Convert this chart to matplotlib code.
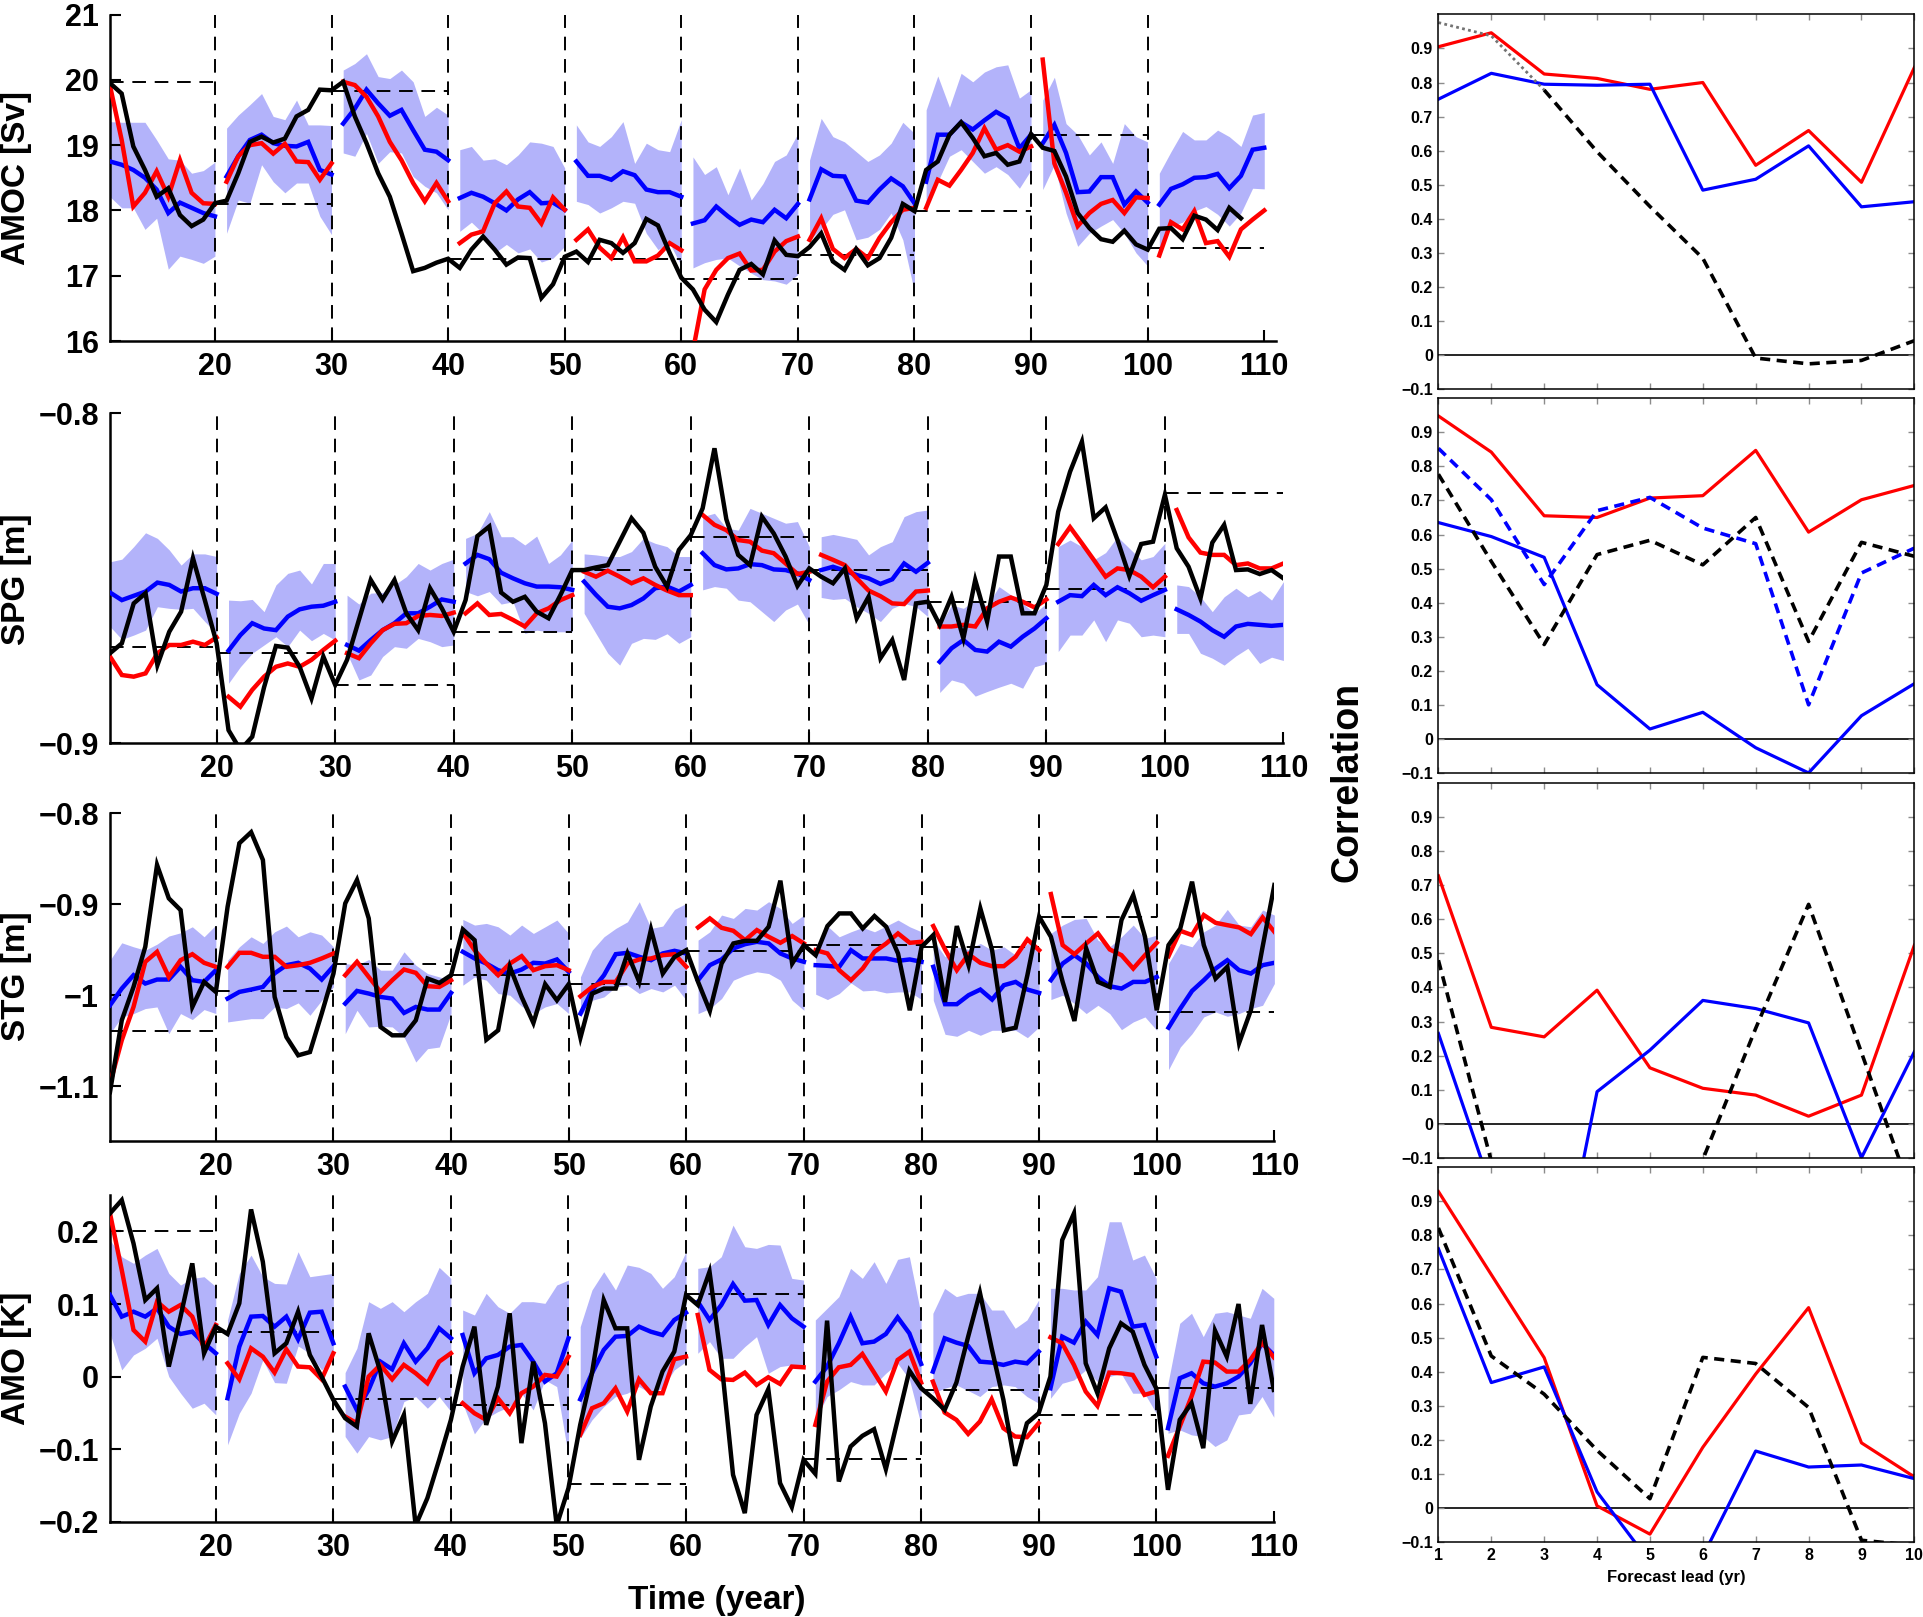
import numpy as np
import matplotlib
matplotlib.use("Agg")
import matplotlib.pyplot as plt

plt.rcParams['font.family'] = ['Liberation Sans', 'DejaVu Sans']
plt.rcParams['font.weight'] = 'bold'

# ---------------- data: time series (years 11-110, 10 forecast blocks) ----------------
years = np.arange(11, 111)
amoc_years = np.arange(11, 109)

amoc_obs = [19.95, 19.79, 18.98, 18.62, 18.21, 18.34, 17.93, 17.76, 17.86, 18.11,
            18.15, 18.57, 19.05, 19.13, 19.04, 19.10, 19.44, 19.54, 19.85, 19.84,
            19.97, 19.44, 19.03, 18.57, 18.21, 17.65, 17.07, 17.12, 17.20, 17.26,
            17.12, 17.40, 17.60, 17.40, 17.17, 17.28, 17.27, 16.66, 16.87, 17.29,
            17.37, 17.21, 17.55, 17.50, 17.35, 17.50, 17.87, 17.77, 17.35, 16.97,
            16.79, 16.48, 16.29, 16.71, 17.09, 17.18, 17.02, 17.54, 17.32, 17.30,
            17.44, 17.65, 17.22, 17.09, 17.41, 17.16, 17.27, 17.58, 18.10, 17.99,
            18.62, 18.75, 19.16, 19.35, 19.11, 18.83, 18.88, 18.70, 18.75, 19.17,
            18.96, 18.91, 18.52, 17.96, 17.73, 17.56, 17.52, 17.69, 17.48, 17.40,
            17.72, 17.73, 17.56, 17.92, 17.86, 17.70, 18.04, 17.88]
amoc_ens = [18.75, 18.70, 18.62, 18.50, 18.32, 17.96, 18.12, 18.04, 17.96, 17.91,
            18.52, 18.83, 19.08, 19.16, 19.03, 18.99, 18.98, 19.05, 18.62, 18.55,
            19.33, 19.56, 19.85, 19.64, 19.45, 19.54, 19.23, 18.93, 18.90, 18.77,
            18.19, 18.27, 18.21, 18.11, 18.00, 18.17, 18.28, 18.11, 18.12, 18.01,
            18.75, 18.53, 18.53, 18.47, 18.60, 18.54, 18.32, 18.28, 18.28, 18.21,
            17.80, 17.85, 18.06, 17.91, 17.78, 17.86, 17.82, 18.01, 17.88, 18.10,
            18.17, 18.63, 18.53, 18.52, 18.15, 18.12, 18.32, 18.49, 18.37, 18.11,
            18.44, 19.16, 19.16, 19.35, 19.24, 19.38, 19.51, 19.41, 18.95, 19.16,
            19.03, 19.31, 18.88, 18.28, 18.29, 18.51, 18.51, 18.09, 18.29, 18.12,
            18.09, 18.33, 18.40, 18.50, 18.51, 18.56, 18.34, 18.53, 18.93, 18.96]
amoc_red = [19.91, 19.08, 18.06, 18.27, 18.60, 18.21, 18.77, 18.27, 18.11, 18.10,
            18.44, 18.83, 19.00, 19.03, 18.87, 19.02, 18.75, 18.74, 18.47, 18.72,
            19.97, 19.92, 19.74, 19.44, 19.05, 18.77, 18.42, 18.14, 18.42, 18.14,
            17.50, 17.63, 17.68, 18.11, 18.29, 18.06, 18.04, 17.80, 18.20, 18.01,
            17.55, 17.71, 17.43, 17.27, 17.59, 17.22, 17.22, 17.31, 17.50, 17.39,
            15.85, 16.79, 17.09, 17.27, 17.34, 17.08, 17.09, 17.37, 17.53, 17.60,
            17.55, 17.88, 17.41, 17.27, 17.41, 17.27, 17.58, 17.82, 18.01, 18.04,
            18.04, 18.47, 18.38, 18.62, 18.88, 19.26, 18.93, 19.00, 18.90, 18.98,
            20.31, 18.72, 18.27, 17.76, 17.96, 18.10, 18.16, 17.96, 18.20, 18.19,
            17.31, 17.82, 17.71, 17.99, 17.50, 17.53, 17.29, 17.71, 17.86, 18.00]
amoc_hi = [19.36, 19.35, 19.35, 19.35, 19.08, 18.79, 18.77, 18.57, 18.61, 18.74,
           19.26, 19.46, 19.62, 19.79, 19.44, 19.39, 19.69, 19.31, 19.31, 19.30,
           20.15, 20.25, 20.40, 20.05, 20.02, 20.15, 19.97, 19.44, 19.58, 19.46,
           18.93, 18.98, 18.77, 18.79, 18.70, 18.85, 19.05, 19.03, 18.98, 18.65,
           19.31, 19.05, 18.98, 19.13, 19.36, 18.72, 19.03, 18.93, 18.90, 19.39,
           18.82, 18.55, 18.67, 18.24, 18.65, 18.16, 18.41, 18.75, 18.85, 19.18,
           18.77, 19.41, 19.13, 19.05, 18.90, 18.75, 18.85, 19.03, 19.35, 19.18,
           19.54, 20.06, 19.58, 20.10, 19.97, 20.12, 20.20, 20.23, 19.72, 19.85,
           19.69, 20.04, 19.33, 19.16, 18.85, 19.05, 18.72, 19.33, 19.13, 19.05,
           18.57, 18.90, 19.21, 19.08, 19.08, 19.23, 19.13, 18.98, 19.46, 19.50]
amoc_lo = [18.21, 18.04, 18.04, 17.71, 17.88, 17.10, 17.30, 17.25, 17.19, 17.30,
           17.65, 18.16, 18.11, 18.70, 18.44, 18.27, 18.42, 18.42, 17.91, 17.63,
           18.88, 18.83, 19.18, 18.72, 18.90, 18.88, 18.52, 18.37, 18.27, 18.01,
           17.68, 17.82, 17.65, 17.35, 17.48, 17.35, 17.41, 17.21, 17.27, 17.45,
           18.14, 18.09, 17.96, 18.04, 18.14, 18.11, 17.65, 17.40, 17.50, 17.15,
           17.12, 17.20, 17.25, 17.27, 17.15, 17.04, 16.94, 16.92, 16.87, 17.02,
           17.55, 17.71, 17.94, 18.01, 17.55, 17.59, 17.71, 17.96, 17.55, 16.75,
           18.09, 18.44, 18.83, 18.93, 18.75, 18.57, 18.67, 18.55, 18.34, 18.62,
           18.32, 18.70, 17.96, 17.45, 17.65, 17.76, 17.86, 17.65, 17.35, 17.15,
           17.37, 17.76, 17.82, 17.99, 18.06, 17.94, 17.76, 17.96, 18.34, 18.33]
amoc_init = [19.97, 18.10, 19.83, 17.25, 17.26, 16.95, 17.31, 17.99, 19.15, 17.42]

spg_obs = [-0.8727, -0.8697, -0.8576, -0.8545, -0.8763, -0.8662, -0.8601, -0.8439, -0.8566, -0.8697,
           -0.8960, -0.9020, -0.8980, -0.8830, -0.8705, -0.8710, -0.8768, -0.8864, -0.8737, -0.8823,
           -0.8747, -0.8626, -0.8505, -0.8564, -0.8505, -0.8606, -0.8657, -0.8530, -0.8591, -0.8662,
           -0.8566, -0.8372, -0.8343, -0.8543, -0.8571, -0.8556, -0.8601, -0.8621, -0.8551, -0.8475,
           -0.8475, -0.8467, -0.8460, -0.8389, -0.8318, -0.8362, -0.8465, -0.8525, -0.8414, -0.8369,
           -0.8288, -0.8106, -0.8321, -0.8429, -0.8460, -0.8313, -0.8364, -0.8434, -0.8523, -0.8470,
           -0.8495, -0.8515, -0.8470, -0.8621, -0.8556, -0.8742, -0.8687, -0.8808, -0.8576, -0.8571,
           -0.8641, -0.8556, -0.8682, -0.8505, -0.8631, -0.8434, -0.8434, -0.8606, -0.8606, -0.8520,
           -0.8298, -0.8177, -0.8086, -0.8318, -0.8285, -0.8384, -0.8493, -0.8396, -0.8389, -0.8247,
           -0.8409, -0.8465, -0.8561, -0.8392, -0.8338, -0.8475, -0.8473, -0.8487, -0.8475, -0.8500]
spg_ens = [-0.8543, -0.8566, -0.8553, -0.8540, -0.8513, -0.8520, -0.8540, -0.8530, -0.8530, -0.8547,
           -0.8719, -0.8672, -0.8636, -0.8652, -0.8657, -0.8616, -0.8594, -0.8586, -0.8583, -0.8571,
           -0.8702, -0.8719, -0.8687, -0.8657, -0.8636, -0.8606, -0.8606, -0.8586, -0.8564, -0.8571,
           -0.8455, -0.8429, -0.8442, -0.8483, -0.8500, -0.8515, -0.8525, -0.8525, -0.8527, -0.8535,
           -0.8510, -0.8550, -0.8586, -0.8591, -0.8581, -0.8561, -0.8530, -0.8525, -0.8540, -0.8520,
           -0.8424, -0.8460, -0.8473, -0.8470, -0.8457, -0.8460, -0.8473, -0.8475, -0.8485, -0.8505,
           -0.8475, -0.8465, -0.8477, -0.8490, -0.8500, -0.8517, -0.8503, -0.8455, -0.8480, -0.8453,
           -0.8753, -0.8712, -0.8687, -0.8717, -0.8722, -0.8692, -0.8707, -0.8677, -0.8652, -0.8621,
           -0.8571, -0.8551, -0.8554, -0.8520, -0.8551, -0.8527, -0.8545, -0.8568, -0.8551, -0.8535,
           -0.8594, -0.8611, -0.8631, -0.8657, -0.8677, -0.8646, -0.8638, -0.8641, -0.8644, -0.8641]
spg_red = [-0.8737, -0.8793, -0.8798, -0.8788, -0.8727, -0.8702, -0.8702, -0.8692, -0.8702, -0.8679,
           -0.8859, -0.8889, -0.8838, -0.8798, -0.8768, -0.8758, -0.8768, -0.8747, -0.8717, -0.8689,
           -0.8727, -0.8742, -0.8697, -0.8657, -0.8638, -0.8636, -0.8614, -0.8611, -0.8614, -0.8604,
           -0.8606, -0.8576, -0.8611, -0.8608, -0.8626, -0.8646, -0.8606, -0.8591, -0.8566, -0.8551,
           -0.8480, -0.8495, -0.8477, -0.8495, -0.8515, -0.8500, -0.8520, -0.8537, -0.8551, -0.8551,
           -0.8308, -0.8338, -0.8354, -0.8384, -0.8389, -0.8416, -0.8424, -0.8455, -0.8487, -0.8480,
           -0.8429, -0.8444, -0.8460, -0.8500, -0.8537, -0.8554, -0.8576, -0.8578, -0.8540, -0.8537,
           -0.8646, -0.8646, -0.8641, -0.8646, -0.8591, -0.8571, -0.8558, -0.8571, -0.8588, -0.8564,
           -0.8396, -0.8345, -0.8394, -0.8444, -0.8495, -0.8470, -0.8475, -0.8495, -0.8527, -0.8495,
           -0.8293, -0.8376, -0.8422, -0.8429, -0.8429, -0.8460, -0.8455, -0.8470, -0.8470, -0.8455]
spg_hi = [-0.8450, -0.8442, -0.8404, -0.8362, -0.8379, -0.8414, -0.8460, -0.8426, -0.8426, -0.8434,
          -0.8566, -0.8568, -0.8564, -0.8601, -0.8520, -0.8485, -0.8475, -0.8517, -0.8455, -0.8455,
          -0.8551, -0.8578, -0.8545, -0.8543, -0.8520, -0.8495, -0.8455, -0.8475, -0.8455, -0.8442,
          -0.8379, -0.8364, -0.8298, -0.8374, -0.8374, -0.8399, -0.8372, -0.8455, -0.8429, -0.8384,
          -0.8426, -0.8429, -0.8434, -0.8434, -0.8419, -0.8379, -0.8394, -0.8404, -0.8434, -0.8434,
          -0.8313, -0.8303, -0.8348, -0.8354, -0.8288, -0.8303, -0.8318, -0.8333, -0.8328, -0.8404,
          -0.8374, -0.8367, -0.8374, -0.8382, -0.8429, -0.8404, -0.8389, -0.8313, -0.8298, -0.8293,
          -0.8644, -0.8581, -0.8591, -0.8566, -0.8584, -0.8525, -0.8550, -0.8576, -0.8606, -0.8576,
          -0.8404, -0.8384, -0.8404, -0.8444, -0.8422, -0.8374, -0.8409, -0.8444, -0.8434, -0.8394,
          -0.8520, -0.8525, -0.8556, -0.8601, -0.8556, -0.8530, -0.8556, -0.8537, -0.8566, -0.8510]
spg_lo = [-0.8646, -0.8685, -0.8672, -0.8657, -0.8586, -0.8591, -0.8594, -0.8591, -0.8631, -0.8667,
          -0.8818, -0.8768, -0.8727, -0.8702, -0.8677, -0.8707, -0.8657, -0.8689, -0.8667, -0.8687,
          -0.8727, -0.8808, -0.8793, -0.8737, -0.8707, -0.8712, -0.8682, -0.8692, -0.8707, -0.8702,
          -0.8540, -0.8553, -0.8540, -0.8578, -0.8571, -0.8667, -0.8657, -0.8662, -0.8662, -0.8662,
          -0.8606, -0.8667, -0.8727, -0.8763, -0.8697, -0.8682, -0.8685, -0.8668, -0.8697, -0.8677,
          -0.8535, -0.8525, -0.8530, -0.8566, -0.8571, -0.8601, -0.8631, -0.8596, -0.8578, -0.8641,
          -0.8558, -0.8564, -0.8561, -0.8586, -0.8606, -0.8631, -0.8591, -0.8576, -0.8586, -0.8616,
          -0.8846, -0.8808, -0.8818, -0.8857, -0.8843, -0.8830, -0.8818, -0.8833, -0.8768, -0.8758,
          -0.8722, -0.8672, -0.8672, -0.8626, -0.8692, -0.8626, -0.8636, -0.8677, -0.8672, -0.8677,
          -0.8667, -0.8667, -0.8727, -0.8742, -0.8763, -0.8735, -0.8712, -0.8758, -0.8739, -0.8749]
spg_init = [-0.8709, -0.8727, -0.8823, -0.8662, -0.8475, -0.8376, -0.8475, -0.8573, -0.8533, -0.8242]

stg_obs = [-1.1066, -1.0277, -0.9910, -0.9469, -0.8569, -0.8936, -0.9065, -1.0130, -0.9855, -0.9965,
           -0.9028, -0.8330, -0.8209, -0.8514, -1.0020, -1.0461, -1.0662, -1.0626, -1.0203, -0.9763,
           -0.8992, -0.8734, -0.9157, -1.0350, -1.0442, -1.0442, -1.0277, -0.9818, -0.9866, -0.9781,
           -0.9278, -0.9396, -1.0490, -1.0387, -0.9689, -1.0020, -1.0306, -0.9880, -1.0057, -0.9880,
           -1.0468, -0.9983, -0.9928, -0.9928, -0.9542, -0.9855, -0.9278, -0.9763, -0.9580, -0.9506,
           -0.9855, -1.0174, -0.9653, -0.9432, -0.9403, -0.9403, -0.9249, -0.8742, -0.9653, -0.9451,
           -0.9561, -0.9241, -0.9102, -0.9102, -0.9267, -0.9131, -0.9249, -0.9542, -1.0167, -0.9470,
           -0.9340, -1.0075, -0.9241, -0.9671, -0.9047, -0.9506, -1.0387, -1.0358, -0.9781, -0.9138,
           -0.9359, -0.9855, -1.0284, -0.9487, -0.9855, -0.9910, -0.9175, -0.8900, -0.9359, -1.0167,
           -0.9451, -0.9267, -0.8753, -0.9451, -0.9818, -0.9689, -1.0527, -1.0167, -0.9469, -0.8790]
stg_ens = [-1.0112, -0.9928, -0.9781, -0.9873, -0.9829, -0.9829, -0.9689, -0.9836, -0.9855, -0.9726,
           -1.0038, -0.9965, -0.9939, -0.9910, -0.9760, -0.9671, -0.9645, -0.9708, -0.9829, -0.9682,
           -1.0093, -0.9954, -0.9983, -1.0020, -1.0038, -1.0196, -1.0130, -1.0159, -1.0159, -0.9976,
           -0.9524, -0.9597, -0.9653, -0.9726, -0.9763, -0.9719, -0.9645, -0.9653, -0.9608, -0.9744,
           -1.0203, -0.9946, -0.9781, -0.9550, -0.9535, -0.9579, -0.9616, -0.9542, -0.9513, -0.9542,
           -0.9836, -0.9671, -0.9608, -0.9487, -0.9440, -0.9414, -0.9432, -0.9542, -0.9597, -0.9634,
           -0.9671, -0.9678, -0.9689, -0.9506, -0.9597, -0.9597, -0.9597, -0.9623, -0.9608, -0.9634,
           -0.9689, -1.0100, -1.0100, -1.0001, -0.9939, -1.0049, -0.9891, -0.9855, -0.9939, -0.9976,
           -0.9836, -0.9653, -0.9561, -0.9653, -0.9800, -0.9902, -0.9928, -0.9855, -0.9855, -0.9800,
           -1.0358, -1.0148, -0.9954, -0.9836, -0.9708, -0.9616, -0.9726, -0.9763, -0.9671, -0.9645]
stg_red = [-1.0975, -1.0497, -1.0130, -0.9634, -0.9524, -0.9800, -0.9616, -0.9550, -0.9645, -0.9689,
           -0.9689, -0.9535, -0.9535, -0.9579, -0.9579, -0.9689, -0.9671, -0.9645, -0.9597, -0.9542,
           -0.9781, -0.9634, -0.9800, -0.9965, -0.9836, -0.9719, -0.9755, -0.9902, -0.9910, -0.9836,
           -0.9315, -0.9506, -0.9653, -0.9781, -0.9653, -0.9572, -0.9726, -0.9682, -0.9671, -0.9726,
           -1.0013, -0.9910, -0.9855, -0.9855, -0.9653, -0.9608, -0.9597, -0.9561, -0.9550, -0.9689,
           -0.9256, -0.9157, -0.9260, -0.9293, -0.9396, -0.9285, -0.9359, -0.9425, -0.9351, -0.9432,
           -0.9506, -0.9542, -0.9726, -0.9836, -0.9708, -0.9524, -0.9432, -0.9322, -0.9425, -0.9414,
           -0.9241, -0.9498, -0.9726, -0.9550, -0.9645, -0.9682, -0.9682, -0.9579, -0.9388, -0.9506,
           -0.8889, -0.9451, -0.9550, -0.9432, -0.9322, -0.9498, -0.9561, -0.9708, -0.9561, -0.9425,
           -0.9572, -0.9293, -0.9340, -0.9120, -0.9205, -0.9231, -0.9256, -0.9329, -0.9146, -0.9304]
stg_hi = [-0.9616, -0.9425, -0.9469, -0.9506, -0.9440, -0.9351, -0.9315, -0.9249, -0.9359, -0.9230,
          -0.9616, -0.9469, -0.9359, -0.9432, -0.9304, -0.9241, -0.9359, -0.9304, -0.9340, -0.9469,
          -0.9653, -0.9671, -0.9608, -0.9726, -0.9726, -0.9524, -0.9671, -0.9763, -0.9800, -0.9836,
          -0.9168, -0.9230, -0.9212, -0.9249, -0.9340, -0.9230, -0.9322, -0.9249, -0.9175, -0.9322,
          -0.9800, -0.9506, -0.9359, -0.9267, -0.9194, -0.8973, -0.9267, -0.9241, -0.9058, -0.8992,
          -0.9396, -0.9304, -0.9120, -0.9157, -0.9047, -0.9065, -0.8973, -0.9047, -0.9212, -0.9120,
          -0.9469, -0.9241, -0.9359, -0.9304, -0.9256, -0.9304, -0.9241, -0.9175, -0.9249, -0.9304,
          -0.9396, -0.9579, -0.9469, -0.9498, -0.9432, -0.9506, -0.9469, -0.9561, -0.9432, -0.9469,
          -0.9322, -0.9230, -0.9168, -0.9157, -0.9396, -0.9469, -0.9359, -0.9230, -0.9377, -0.9340,
          -0.9653, -0.9432, -0.9469, -0.9304, -0.9230, -0.9058, -0.9230, -0.9249, -0.9065, -0.9120]
stg_lo = [-1.0424, -1.0240, -1.0203, -1.0148, -1.0130, -1.0424, -1.0203, -1.0269, -1.0159, -1.0203,
          -1.0295, -1.0277, -1.0259, -1.0259, -1.0130, -1.0148, -1.0086, -1.0222, -1.0057, -0.9910,
          -1.0424, -1.0167, -1.0350, -1.0343, -1.0350, -1.0461, -1.0736, -1.0589, -1.0571, -1.0203,
          -0.9891, -0.9800, -0.9836, -0.9983, -1.0001, -1.0123, -1.0203, -1.0130, -1.0093, -1.0203,
          -1.0240, -1.0057, -1.0020, -0.9910, -0.9891, -0.9983, -0.9928, -0.9965, -0.9891, -1.0057,
          -1.0203, -1.0148, -1.0038, -0.9836, -0.9781, -0.9744, -0.9763, -0.9836, -1.0057, -1.0167,
          -0.9990, -1.0049, -0.9983, -0.9866, -0.9954, -0.9946, -0.9976, -0.9965, -0.9965, -1.0049,
          -1.0057, -1.0431, -1.0453, -1.0387, -1.0442, -1.0387, -1.0387, -1.0387, -1.0468, -1.0350,
          -1.0049, -1.0001, -1.0093, -1.0203, -1.0112, -1.0203, -1.0380, -1.0295, -1.0240, -1.0387,
          -1.0820, -1.0571, -1.0424, -1.0240, -1.0185, -1.0233, -1.0203, -1.0148, -1.0112, -0.9873]
stg_init = [-1.0394, -0.9954, -0.9653, -0.9781, -0.9873, -0.9513, -0.9451, -0.9476, -0.9138, -1.0185]

amo_obs = [0.2248, 0.2431, 0.1835, 0.1055, 0.1216, 0.0138, 0.0826, 0.1560, 0.0321, 0.0688,
           0.0587, 0.1009, 0.2303, 0.1583, 0.0321, 0.0459, 0.0894, 0.0298, 0.0000, -0.0321,
           -0.0573, -0.0688, 0.0596, 0.0069, -0.0894, -0.0528, -0.2050, -0.1674, -0.1147, -0.0596,
           0.0138, 0.0688, -0.0665, -0.0138, 0.0872, -0.0917, 0.0206, -0.0642, -0.2050, -0.1537,
           -0.0665, 0.0046, 0.1055, 0.0665, 0.0665, -0.1147, -0.0413, 0.0069, 0.0344, 0.1124,
           0.0986, 0.1445, 0.0229, -0.1353, -0.1881, -0.0528, -0.0174, -0.1468, -0.1798, -0.1147,
           -0.1339, 0.0771, -0.1445, -0.0963, -0.0817, -0.0725, -0.1275, -0.0596, 0.0083, -0.0161,
           -0.0298, -0.0459, -0.0083, 0.0550, 0.1156, 0.0390, -0.0321, -0.1229, -0.0642, -0.0505,
           0.0000, 0.1881, 0.2248, 0.0183, -0.0229, 0.0390, 0.0734, 0.0619, 0.0161, -0.0161,
           -0.1560, -0.0596, -0.0367, -0.0986, 0.0633, 0.0275, 0.1000, -0.0376, 0.0711, -0.0183]
amo_ens = [0.1124, 0.0826, 0.0894, 0.0826, 0.0940, 0.0688, 0.0587, 0.0619, 0.0459, 0.0321,
           -0.0298, 0.0413, 0.0826, 0.0835, 0.0688, 0.0826, 0.0514, 0.0881, 0.0894, 0.0459,
           -0.0138, -0.0459, -0.0183, 0.0206, 0.0101, 0.0459, 0.0206, 0.0390, 0.0665, 0.0528,
           0.0573, 0.0046, 0.0252, 0.0298, 0.0413, 0.0436, 0.0206, -0.0069, 0.0046, 0.0528,
           -0.0312, 0.0046, 0.0367, 0.0550, 0.0560, 0.0688, 0.0619, 0.0573, 0.0780, 0.0881,
           0.1032, 0.0780, 0.0986, 0.1275, 0.1046, 0.1055, 0.0711, 0.0986, 0.0803, 0.0688,
           -0.0069, 0.0138, 0.0459, 0.0826, 0.0459, 0.0482, 0.0587, 0.0817, 0.0596, 0.0174,
           0.0069, 0.0528, 0.0468, 0.0422, 0.0206, 0.0193, 0.0161, 0.0206, 0.0183, 0.0344,
           -0.0161, 0.0550, 0.0468, 0.0757, 0.0573, 0.1216, 0.1170, 0.0688, 0.0711, 0.0275,
           -0.0711, -0.0023, 0.0046, -0.0092, -0.0138, -0.0092, 0.0000, 0.0183, 0.0459, 0.0298]
amo_red = [0.2248, 0.1468, 0.0642, 0.0482, 0.1032, 0.0894, 0.0986, 0.0826, 0.0390, 0.0711,
           0.0183, -0.0037, 0.0390, 0.0275, 0.0055, 0.0376, 0.0138, 0.0128, -0.0037, 0.0321,
           -0.0550, -0.0642, 0.0000, 0.0161, -0.0037, 0.0161, 0.0046, -0.0092, 0.0206, 0.0321,
           -0.0367, -0.0505, -0.0596, -0.0298, -0.0505, -0.0229, -0.0138, 0.0023, 0.0000, 0.0275,
           -0.0803, -0.0436, -0.0367, -0.0161, -0.0482, -0.0037, -0.0229, -0.0229, 0.0239, 0.0275,
           0.0849, 0.0092, -0.0037, -0.0046, 0.0055, -0.0115, -0.0009, -0.0101, 0.0138, 0.0128,
           -0.0665, -0.0069, 0.0128, 0.0161, 0.0312, 0.0055, -0.0206, 0.0229, 0.0344, -0.0083,
           -0.0069, -0.0495, -0.0596, -0.0789, -0.0619, -0.0312, -0.0711, -0.0826, -0.0835, -0.0642,
           0.0541, 0.0459, 0.0161, -0.0206, -0.0404, 0.0055, 0.0046, 0.0023, -0.0252, -0.0206,
           -0.1092, -0.0688, -0.0275, 0.0206, 0.0193, 0.0069, 0.0069, 0.0229, 0.0468, 0.0266]
amo_hi = [0.1881, 0.1651, 0.1560, 0.1674, 0.1766, 0.1422, 0.1261, 0.1353, 0.1376, 0.1239,
          0.0780, 0.1422, 0.1674, 0.1376, 0.1284, 0.1275, 0.1720, 0.1376, 0.1399, 0.1422,
          0.0055, 0.0390, 0.1032, 0.0940, 0.1032, 0.0894, 0.1032, 0.1147, 0.1505, 0.1353,
          0.0917, 0.0849, 0.1147, 0.0963, 0.0872, 0.1032, 0.1032, 0.1009, 0.1261, 0.1330,
          0.0688, 0.1193, 0.1445, 0.1193, 0.1537, 0.1505, 0.1422, 0.1216, 0.1376, 0.1720,
          0.1491, 0.1514, 0.1651, 0.2087, 0.1789, 0.1766, 0.1821, 0.1812, 0.1353, 0.1330,
          0.0780, 0.0940, 0.1101, 0.1491, 0.1353, 0.1583, 0.1284, 0.1615, 0.1651, 0.0849,
          0.0872, 0.1216, 0.1101, 0.1147, 0.1147, 0.0917, 0.0917, 0.0665, 0.0780, 0.1055,
          0.1216, 0.1216, 0.1193, 0.1193, 0.1376, 0.2133, 0.2133, 0.1606, 0.1674, 0.1353,
          -0.0092, 0.0734, 0.0872, 0.0550, 0.0872, 0.0894, 0.0849, 0.0803, 0.1216, 0.1078]
amo_lo = [0.0596, 0.0092, 0.0298, 0.0390, 0.0528, 0.0000, -0.0229, -0.0436, -0.0367, -0.0528,
          -0.0940, -0.0505, -0.0229, 0.0229, -0.0083, -0.0092, 0.0422, 0.0321, 0.0092, 0.0252,
          -0.0826, -0.1055, -0.0826, -0.0872, -0.0826, -0.0344, -0.0275, -0.0436, -0.0275, -0.0482,
          -0.0367, -0.0789, -0.0573, -0.0482, -0.0413, -0.0229, -0.0459, -0.0046, -0.0138, -0.1101,
          -0.0849, -0.0596, -0.0413, -0.0275, -0.0229, -0.0138, -0.0229, -0.0160, 0.0092, 0.0206,
          0.0321, 0.0482, 0.0252, 0.0252, 0.0413, 0.0550, 0.0046, 0.0138, 0.0161, 0.0115,
          -0.0596, -0.0275, -0.0183, -0.0069, -0.0115, -0.0115, 0.0046, 0.0183, -0.0037, -0.0665,
          -0.0229, -0.0161, -0.0115, -0.0193, -0.0275, -0.0138, -0.0115, -0.0138, -0.0275, -0.0367,
          -0.0300, -0.0092, -0.0046, 0.0092, -0.0069, 0.0000, 0.0046, -0.0229, -0.0229, -0.0505,
          -0.0780, -0.0734, -0.0803, -0.0826, -0.0963, -0.0872, -0.0528, -0.0505, -0.0275, -0.0560]
amo_init = [0.2005, 0.0619, -0.0312, -0.0390, -0.1477, 0.1133, -0.1138, -0.0183, -0.0528, -0.0161]

# ---------------- data: correlation vs forecast lead ----------------
lead = np.arange(1, 11)
r1_red = [0.905, 0.946, 0.825, 0.812, 0.780, 0.800, 0.557, 0.659, 0.507, 0.844]
r1_blue = [0.751, 0.827, 0.795, 0.792, 0.795, 0.484, 0.516, 0.614, 0.435, 0.450]
r1_gray = [0.976, 0.937, 0.778]                     # leads 1-3
r1_black = [0.778, 0.597, 0.436, 0.284, -0.009, -0.026, -0.016, 0.042]   # leads 3-10

r2_red = [0.948, 0.842, 0.655, 0.650, 0.707, 0.714, 0.847, 0.607, 0.702, 0.744]
r2_blue = [0.635, 0.594, 0.533, 0.159, 0.029, 0.078, -0.026, -0.100, 0.068, 0.162]
r2_blue_dash = [0.853, 0.702, 0.453, 0.670, 0.709, 0.619, 0.573, 0.100, 0.487, 0.560]
r2_black = [0.777, 0.521, 0.277, 0.541, 0.583, 0.511, 0.650, 0.286, 0.577, 0.536]

r3_red = [0.728, 0.283, 0.255, 0.392, 0.164, 0.104, 0.084, 0.022, 0.084, 0.524]
r3_blue = [0.265, -0.190, -0.680, 0.094, 0.216, 0.362, 0.338, 0.296, -0.100, 0.211]
r3_black = [0.480, -0.110, -0.300, -0.110, -0.300, -0.105, 0.280, 0.644, 0.209, -0.230]

r4_red = [0.929, 0.685, 0.441, 0.006, -0.077, 0.178, 0.393, 0.588, 0.191, 0.091]
r4_blue = [0.761, 0.368, 0.414, 0.047, -0.159, -0.142, 0.167, 0.120, 0.126, 0.086]
r4_black = [0.822, 0.446, 0.334, 0.169, 0.027, 0.442, 0.424, 0.295, -0.095, -0.110]

SHADE = '#b3b3fa'
DASH = (0, (7, 4.5))


def fmt(v):
    v = round(v, 3) + 0.0
    return ('%g' % v).replace('-', '\u2212')


def left_panel(ax, obs_x, obs, ens, red, lo, hi, init, ylim, yticks, xmax):
    for k in range(10):
        s = slice(10 * k, 10 * k + 10)
        yrs = years[s]
        ax.fill_between(yrs, lo[s], hi[s], color=SHADE, lw=0, zorder=1)
        ax.plot(yrs, ens[s], color='blue', lw=3.2, zorder=3, solid_joinstyle='miter')
        ax.plot(yrs, red[s], color='red', lw=3.2, zorder=4, solid_joinstyle='miter')
        x0 = yrs[0] if k == 0 else yrs[0] - 1
        ax.plot([x0, yrs[-1]], [init[k], init[k]], color='k', lw=1.4, ls=DASH, zorder=2)
    for xv in years[9:91:10]:
        ax.axvline(xv, color='k', lw=1.4, ls=DASH, zorder=2)
    ax.plot(obs_x, obs, color='k', lw=3.2, zorder=5, solid_joinstyle='miter')
    ax.set_xlim(11, xmax)
    ax.set_ylim(*ylim)
    ax.set_xticks(np.arange(20, 111, 10))
    ax.set_yticks(yticks)
    ax.set_yticklabels([fmt(v) for v in yticks])
    for sp in ('top', 'right'):
        ax.spines[sp].set_visible(False)
    for sp in ('left', 'bottom'):
        ax.spines[sp].set_linewidth(1.8)
    ax.tick_params(direction='in', length=8, width=1.5, labelsize=22, pad=8)
    for lb in ax.get_xticklabels() + ax.get_yticklabels():
        lb.set_fontweight('bold')


def right_panel(ax, small_zero=False, xlabels=False):
    ax.axhline(0, color='k', lw=1.2, zorder=1)
    ax.set_xlim(1, 10)
    ax.set_ylim(-0.1, 1.0)
    rt = [-0.1, 0, 0.1, 0.2, 0.3, 0.4, 0.5, 0.6, 0.7, 0.8, 0.9]
    ax.set_yticks(rt)
    lbls = ax.set_yticklabels([fmt(v) for v in rt])
    if small_zero:
        lbls[1].set_fontsize(8)
    ax.set_xticks(lead)
    if xlabels:
        ax.set_xticklabels([str(v) for v in lead])
    else:
        ax.set_xticklabels([])
    ax.tick_params(direction='in', length=4, width=1, color='0.55', top=True,
                   right=True, labelsize=11.5, pad=4)
    for sp in ax.spines.values():
        sp.set_linewidth(1.1)
    for lb in ax.get_xticklabels() + ax.get_yticklabels():
        lb.set_fontweight('bold')


fig = plt.figure(figsize=(19.23, 16.17), dpi=100)

ax1 = fig.add_axes([0.0572, 0.7891, 0.6063, 0.2019])
left_panel(ax1, amoc_years, amoc_obs, amoc_ens, amoc_red, amoc_lo, amoc_hi, amoc_init,
           (16, 21), [16, 17, 18, 19, 20, 21], 111)
ax2 = fig.add_axes([0.0572, 0.5403, 0.6102, 0.2041])
left_panel(ax2, years, spg_obs, spg_ens, spg_red, spg_lo, spg_hi, spg_init,
           (-0.9, -0.8), [-0.9, -0.8], 110)
ax3 = fig.add_axes([0.0572, 0.2946, 0.6055, 0.2025])
left_panel(ax3, years, stg_obs, stg_ens, stg_red, stg_lo, stg_hi, stg_init,
           (-1.16, -0.8), [-1.1, -1.0, -0.9, -0.8], 110)
ax4 = fig.add_axes([0.0572, 0.0589, 0.6052, 0.2020])
left_panel(ax4, years, amo_obs, amo_ens, amo_red, amo_lo, amo_hi, amo_init,
           (-0.2, 0.25), [-0.2, -0.1, 0, 0.1, 0.2], 110)

fig.text(0.0085, 0.890, 'AMOC [Sv]', rotation=90, ha='center', va='center', fontsize=24, fontweight='bold')
fig.text(0.0085, 0.642, 'SPG [m]', rotation=90, ha='center', va='center', fontsize=24, fontweight='bold')
fig.text(0.0085, 0.3966, 'STG [m]', rotation=90, ha='center', va='center', fontsize=24, fontweight='bold')
fig.text(0.0085, 0.160, 'AMO [K]', rotation=90, ha='center', va='center', fontsize=24, fontweight='bold')
fig.text(0.3725, 0.005, 'Time (year)', ha='center', va='baseline', fontsize=24, fontweight='bold')

# right column
rx, rw, rh = 0.748, 0.2475, 0.2317
r1 = fig.add_axes([rx, 0.7594, rw, rh])
r1.plot(lead, r1_red, color='red', lw=2.3)
r1.plot(lead, r1_blue, color='blue', lw=2.3)
r1.plot(lead[:3], r1_gray, color='0.45', lw=2, ls=(0, (1, 1.2)))
r1.plot(lead[2:], r1_black, color='k', lw=2.6, ls=(0, (2.8, 1.8)))
right_panel(r1)

r2 = fig.add_axes([rx, 0.5220, rw, rh])
r2.plot(lead, r2_red, color='red', lw=2.3)
r2.plot(lead, r2_blue, color='blue', lw=2.3)
r2.plot(lead, r2_blue_dash, color='blue', lw=2.6, ls=(0, (2.8, 1.8)))
r2.plot(lead, r2_black, color='k', lw=2.6, ls=(0, (2.8, 1.8)))
right_panel(r2)

r3 = fig.add_axes([rx, 0.2840, rw, rh])
r3.plot(lead, r3_red, color='red', lw=2.3)
r3.plot(lead, r3_blue, color='blue', lw=2.3)
r3.plot(lead, r3_black, color='k', lw=2.6, ls=(0, (2.8, 1.8)))
right_panel(r3, small_zero=True)

r4 = fig.add_axes([rx, 0.0464, rw, rh])
r4.plot(lead, r4_red, color='red', lw=2.3)
r4.plot(lead, r4_blue, color='blue', lw=2.3)
r4.plot(lead, r4_black, color='k', lw=2.6, ls=(0, (2.8, 1.8)))
right_panel(r4, small_zero=True, xlabels=True)

fig.text(0.8716, 0.0218, 'Forecast lead (yr)', ha='center', va='baseline', fontsize=12, fontweight='bold')
fig.text(0.7005, 0.5164, 'Correlation', rotation=90, ha='center', va='center', fontsize=27, fontweight='bold')

fig.savefig('out.png', dpi=100)
